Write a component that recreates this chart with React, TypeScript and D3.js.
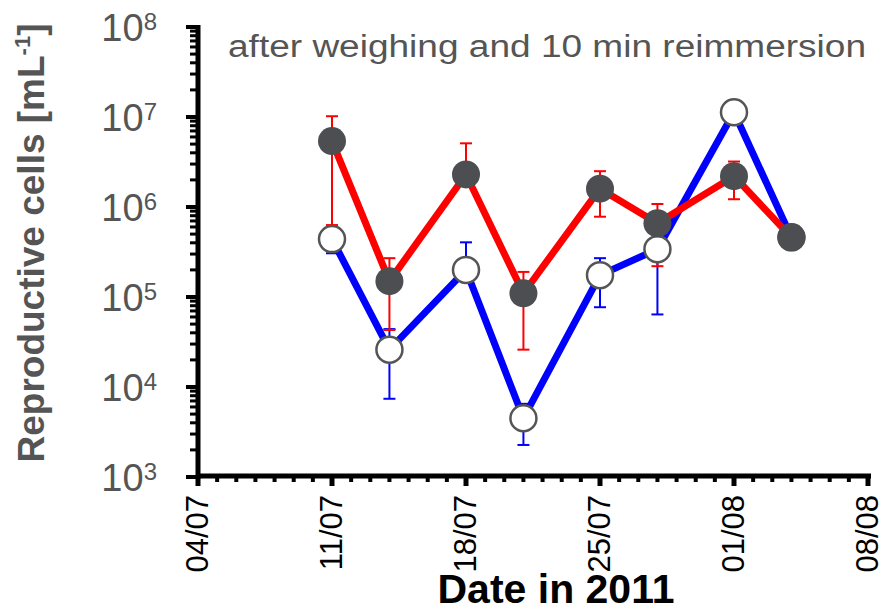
import React from 'react';
import * as d3 from 'd3';

// sampling dates (2011)
const dates = ['2011-07-11', '2011-07-14', '2011-07-18', '2011-07-21', '2011-07-25', '2011-07-28', '2011-08-01', '2011-08-04'];

// filled dark markers, red line
const redValues = [5.4e6, 1.5e5, 2.3e6, 1.1e5, 1.6e6, 6.6e5, 2.2e6, 4.6e5];
const redUpper = [1.02e7, 2.7e5, 5.1e6, 1.9e5, 2.5e6, 1.08e6, 3.2e6, null];
const redLower = [6.3e5, 4.3e4, null, 2.6e4, 7.8e5, 2.2e5, 1.22e6, null];

// open markers, blue line
const blueValues = [4.4e5, 2.6e4, 2.0e5, 4.5e3, 1.75e5, 3.4e5, 1.13e7, 4.6e5];
const blueUpper = [null, 4.4e4, 4.05e5, 6.5e3, 2.7e5, null, null, null];
const blueLower = [3.06e5, 7.4e3, null, 2.27e3, 7.7e4, 6.4e4, null, null];

const xTickLabels = ['04/07', '11/07', '18/07', '25/07', '01/08', '08/08'];
const yExponents = [3, 4, 5, 6, 7, 8];

const parse = d3.timeParse('%Y-%m-%d');

const W = 884;
const H = 611;

const x = d3.scaleTime()
  .domain([parse('2011-07-04')!, parse('2011-08-08')!])
  .range([198, 868]);
const y = d3.scaleLog().domain([1e3, 1e8]).range([477, 27]);

const line = d3.line<number>()
  .x((_, i) => x(parse(dates[i])!))
  .y(d => y(d));

const ErrorBars = ({ values, upper, lower, color }: { values: number[]; upper: (number | null)[]; lower: (number | null)[]; color: string }) => (
  <g stroke={color} strokeWidth={2}>
    {values.map((v, i) => {
      const cx = x(parse(dates[i])!);
      const out = [];
      [upper[i], lower[i]].forEach((e, k) => {
        if (e == null) return;
        out.push(<line key={`l${k}`} x1={cx} x2={cx} y1={y(v)} y2={y(e)} />);
        out.push(<line key={`c${k}`} x1={cx - 6} x2={cx + 6} y1={y(e)} y2={y(e)} />);
      });
      return <g key={i}>{out}</g>;
    })}
  </g>
);

export default function App() {
  const days = d3.timeDay.range(x.domain()[0], d3.timeDay.offset(x.domain()[1], 1));
  const weeks = xTickLabels.map((_, i) => d3.timeDay.offset(x.domain()[0], i * 7));
  const minorY: number[] = [];
  yExponents.slice(0, -1).forEach(e => {
    for (let m = 2; m <= 9; m++) minorY.push(m * Math.pow(10, e));
  });

  return (
    <svg width={W} height={H} style={{ position: 'absolute', left: 0, top: 0, background: '#fff' }}
      fontFamily="Arial, 'Liberation Sans', sans-serif">
      {/* title inside plot */}
      <text x={228} y={57} fontSize={31} fill="#555" textLength={638} lengthAdjust="spacingAndGlyphs">
        after weighing and 10 min reimmersion
      </text>

      {/* y axis */}
      <line x1={198} x2={198} y1={25} y2={479} stroke="#000" strokeWidth={5} />
      {yExponents.map(e => (
        <line key={e} x1={186} x2={198} y1={y(Math.pow(10, e))} y2={y(Math.pow(10, e))} stroke="#000" strokeWidth={4} />
      ))}
      {minorY.map(v => (
        <line key={v} x1={190} x2={198} y1={y(v)} y2={y(v)} stroke="#000" strokeWidth={3} />
      ))}
      {yExponents.map(e => (
        <text key={e} x={157} y={y(Math.pow(10, e)) + 14} textAnchor="end" fontSize={38} fill="#555">
          10<tspan fontSize={24} dy={-11}>{e}</tspan>
        </text>
      ))}
      <text transform="translate(44,243) rotate(-90)" textAnchor="middle" fontSize={37} fontWeight="bold" fill="#555">
        Reproductive cells [mL<tspan fontSize={22} dy={-14}>-1</tspan><tspan dy={14}>]</tspan>
      </text>

      {/* x axis */}
      <line x1={196} x2={871} y1={476} y2={476} stroke="#000" strokeWidth={5} />
      {days.map(d => (
        <line key={+d} x1={x(d)} x2={x(d)} y1={476} y2={482} stroke="#000" strokeWidth={4} />
      ))}
      {weeks.map(d => (
        <line key={+d} x1={x(d)} x2={x(d)} y1={476} y2={486} stroke="#000" strokeWidth={5} />
      ))}
      {weeks.map((d, i) => (
        <text key={+d} transform={`translate(${x(d) + 10},495) rotate(-90)`} textAnchor="end" fontSize={31} fill="#000">
          {xTickLabels[i]}
        </text>
      ))}
      <text x={556} y={603} textAnchor="middle" fontSize={41} fontWeight="bold" fill="#000">Date in 2011</text>

      {/* series */}
      <path d={line(blueValues)!} fill="none" stroke="#0000ff" strokeWidth={7} strokeLinejoin="round" />
      <path d={line(redValues)!} fill="none" stroke="#ff0000" strokeWidth={7} strokeLinejoin="round" />
      <ErrorBars values={blueValues} upper={blueUpper} lower={blueLower} color="#0000ff" />
      <ErrorBars values={redValues} upper={redUpper} lower={redLower} color="#ff0000" />
      {blueValues.map((v, i) => (
        <circle key={i} cx={x(parse(dates[i])!)} cy={y(v)} r={13} fill="#fff" stroke="#555" strokeWidth={2.5} />
      ))}
      {redValues.map((v, i) => (
        <circle key={i} cx={x(parse(dates[i])!)} cy={y(v)} r={14} fill="#4d4e51" />
      ))}
    </svg>
  );
}
